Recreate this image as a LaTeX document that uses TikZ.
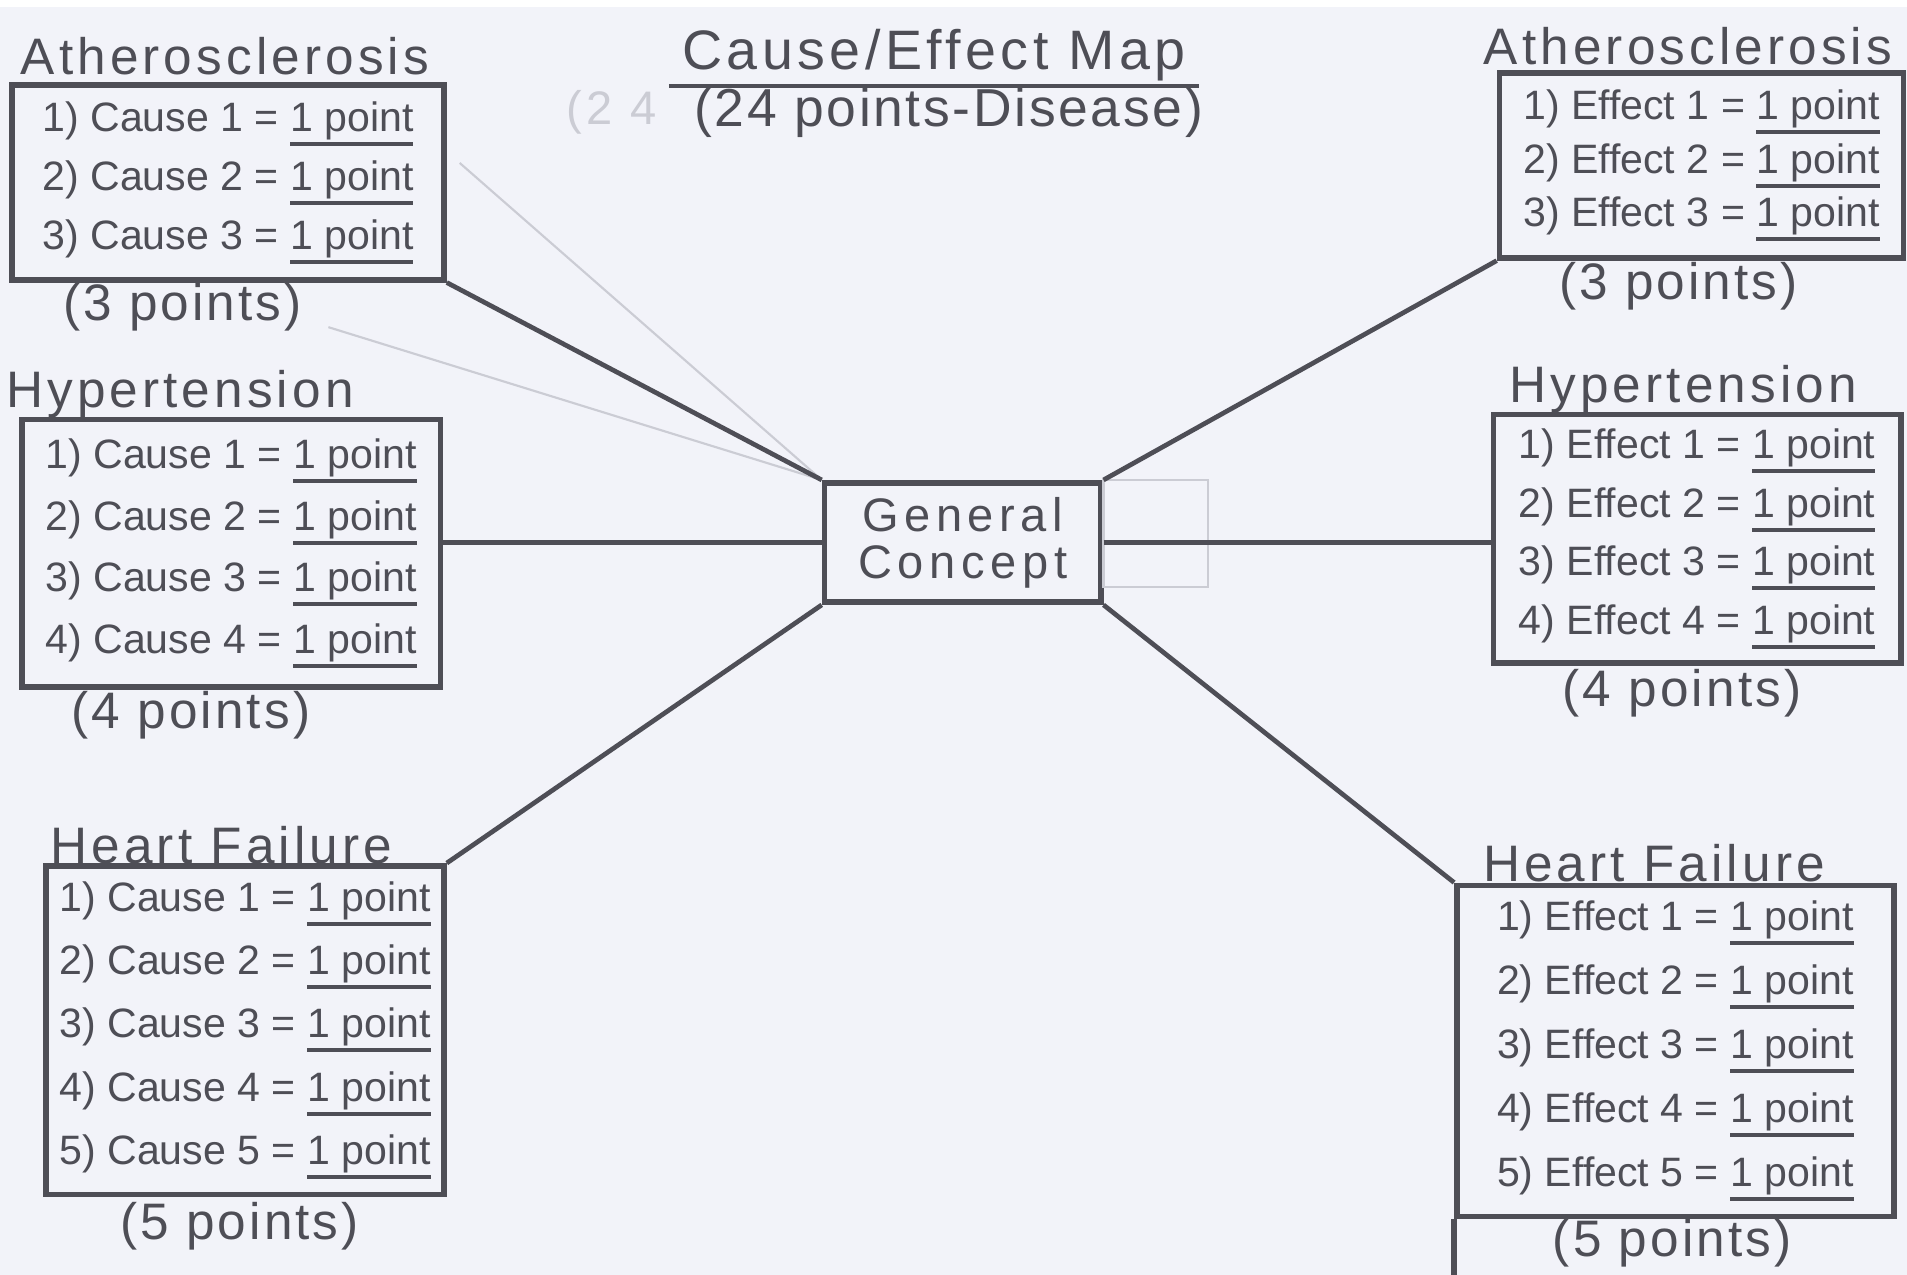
\documentclass[tikz,border=0pt]{standalone}
\usepackage{fontspec}
\setmainfont{Liberation Sans}
\definecolor{ink}{RGB}{78,78,86}
\definecolor{paper}{RGB}{242,243,249}
\definecolor{ghost}{RGB}{203,204,212}
\newcommand{\onept}{\sbox0{1 point}\rlap{\rule[-3.4pt]{\wd0}{0.9pt}}\usebox0}
\newcommand{\spaced}[1]{\addfontfeature{LetterSpace=#1}}
\begin{document}
\begin{tikzpicture}[x=0.01cm, y=-0.01cm,
  box/.style={draw=ink, line width=1.3pt, text=ink, align=left, inner xsep=1pt, font=\fontsize{9.6pt}{#1}\selectfont},
  head/.style={text=ink, font=\fontsize{12pt}{14pt}\selectfont\spaced{8}, inner sep=1pt},
  tally/.style={text=ink, font=\fontsize{12pt}{14pt}\selectfont\spaced{6}, inner sep=1pt},
  link/.style={draw=ink, line width=1.1pt},
  faint/.style={draw=ghost, line width=0.5pt}]
\useasboundingbox (0,0) rectangle (1568,1048);
\fill[white] (0,0) rectangle (1568,1048);
\fill[paper] (0,6) rectangle (1568,1048);

\node[text=ink, inner sep=1pt, font=\fontsize{13pt}{15pt}\selectfont\spaced{8}] (title) at (768,45) {Cause/Effect Map};
\draw[link, line width=0.9pt] ([xshift=-2pt]title.south west) -- ([xshift=2pt]title.south east);
\node[text=ink, inner sep=1pt, font=\fontsize{12.5pt}{15pt}\selectfont\spaced{5}] (subtitle) at (780,93) {(24 points-Disease)};
\node[text=ghost, inner sep=1pt, font=\fontsize{11pt}{14pt}\selectfont\spaced{10}] (ghost24) at (503,92) {(2 4};

\node[box=13.8pt, minimum width=3.55cm, minimum height=1.6cm] (cAth) at (187.5,150) {1) Cause 1 = \onept\\2) Cause 2 = \onept\\3) Cause 3 = \onept};
\node[box=14.4pt, minimum width=3.44cm, minimum height=2.2cm] (cHyp) at (190,455) {1) Cause 1 = \onept\\2) Cause 2 = \onept\\3) Cause 3 = \onept\\4) Cause 4 = \onept};
\node[box=14.8pt, minimum width=3.27cm, minimum height=2.7cm] (cHF) at (201.5,847) {1) Cause 1 = \onept\\2) Cause 2 = \onept\\3) Cause 3 = \onept\\4) Cause 4 = \onept\\5) Cause 5 = \onept};
\node[box=12.5pt, minimum width=3.32cm, minimum height=1.52cm] (eAth) at (1399,136) {1) Effect 1 = \onept\\2) Effect 2 = \onept\\3) Effect 3 = \onept};
\node[box=13.7pt, minimum width=3.35cm, minimum height=2cm] (eHyp) at (1395.5,443) {1) Effect 1 = \onept\\2) Effect 2 = \onept\\3) Effect 3 = \onept\\4) Effect 4 = \onept};
\node[box=15pt, minimum width=3.59cm, minimum height=2.72cm] (eHF) at (1377.5,864) {1) Effect 1 = \onept\\2) Effect 2 = \onept\\3) Effect 3 = \onept\\4) Effect 4 = \onept\\5) Effect 5 = \onept};
\draw[link, line width=1.3pt] (eHF.south west) -- ++(0,48);

\node[head] (hcAth) at (185,46) {Atherosclerosis};
\node[head] (hcHyp) at (148,324) {Hypertension};
\node[head] (hcHF) at (182,695) {Heart Failure};
\node[head] (heAth) at (1388,38) {Atherosclerosis};
\node[head] (heHyp) at (1384,320) {Hypertension};
\node[head] (heHF) at (1360,710) {Heart Failure};

\node[tally] (scAth) at (150,253) {(3 points)};
\node[tally] (scHyp) at (157,588) {(4 points)};
\node[tally] (scHF) at (197,1008) {(5 points)};
\node[tally] (seAth) at (1380,235) {(3 points)};
\node[tally] (seHyp) at (1383,570) {(4 points)};
\node[tally] (seHF) at (1375,1022) {(5 points)};

\node[box=11pt, font=\fontsize{11pt}{11pt}\selectfont\spaced{12}, align=center, minimum width=2.27cm, minimum height=0.88cm] (gc) at (791.5,446) {General\\Concept};

\coordinate (g1) at (378,134);
\coordinate (g2) at (270,269);
\coordinate (g3) at (993,483);
\draw[faint] (g1) -- (gc.north west);
\draw[faint] (g2) -- (gc.north west);
\draw[faint] (gc.north east) rectangle (g3);

\draw[link] (gc.north west) -- (cAth.south east);
\draw[link] (gc.west) -- (gc.west -| cHyp.east);
\draw[link] (gc.south west) -- (cHF.north east);
\draw[link] (gc.north east) -- (eAth.south west);
\draw[link] (gc.east) -- (gc.east -| eHyp.west);
\draw[link] (gc.south east) -- (eHF.north west);
\end{tikzpicture}
\end{document}
